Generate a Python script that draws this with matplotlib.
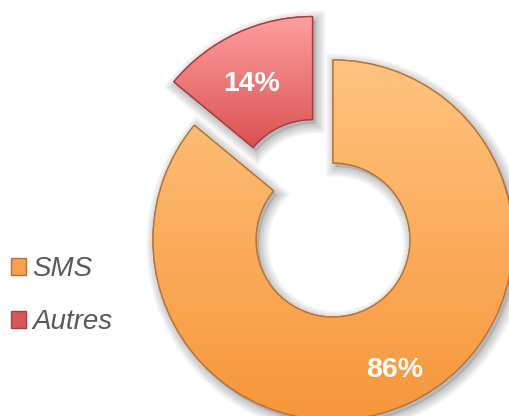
import numpy as np
import matplotlib
matplotlib.use("Agg")
import matplotlib.pyplot as plt
from matplotlib.patches import Patch, Wedge
from matplotlib.colors import LinearSegmentedColormap

labels = ["SMS", "Autres"]
values = [86, 14]
pct_labels = ["86%", "14%"]

top_colors = ["#FFC47F", "#FF9F9F"]
bot_colors = ["#F7963A", "#DB5252"]
edge_colors = ["#B87436", "#A83E3E"]
legend_colors = ["#F5A04A", "#D9565C"]

plt.rcParams["font.family"] = ["Liberation Sans", "DejaVu Sans"]

W, H = 510, 416
fig = plt.figure(figsize=(W / 100, H / 100), dpi=100)
ax = fig.add_axes([0, 0, 1, 1])

R = 180
cx, cy = 333, H - 240
explode = [0, 48]

wedges, texts = ax.pie(values, startangle=90, counterclock=False, radius=R,
                       center=(cx, cy), explode=explode, labels=labels,
                       labeldistance=None,
                       wedgeprops=dict(width=103, linewidth=1.0))

# soft shadow
for w in wedges:
    for k in range(7):
        sh = Wedge((w.center[0] + 3, w.center[1] - 4), w.r, w.theta1, w.theta2,
                   width=w.width, facecolor="none", edgecolor="#000000",
                   linewidth=1 + 2.2 * k, alpha=0.035, zorder=0.5)
        ax.add_patch(sh)
    ax.add_patch(Wedge((w.center[0] + 3, w.center[1] - 4), w.r, w.theta1, w.theta2,
                       width=w.width, facecolor="#000000", alpha=0.12,
                       edgecolor="none", zorder=0.6))

# gradient fills
for i, w in enumerate(wedges):
    w.set_facecolor(bot_colors[i])
    w.set_edgecolor(edge_colors[i])
    w.set_zorder(1)
    ext = w.get_path().get_extents(w.get_patch_transform())
    cmap = LinearSegmentedColormap.from_list("g", [bot_colors[i], top_colors[i]])
    grad = np.linspace(0, 1, 256).reshape(-1, 1)
    im = ax.imshow(grad, cmap=cmap, origin="lower", aspect="auto",
                   extent=(ext.x0, ext.x1, ext.y0, ext.y1), zorder=1.5,
                   interpolation="bilinear")
    im.set_clip_path(w)
    edge = Wedge(w.center, w.r, w.theta1, w.theta2, width=w.width,
                 facecolor="none", edgecolor=edge_colors[i], linewidth=1.0,
                 zorder=2)
    ax.add_patch(edge)

# percentage labels
dists = [0.80, 0.71]
dangle = [0.0, 3.5]
for i, w in enumerate(wedges):
    thm = np.deg2rad((w.theta1 + w.theta2) / 2 + dangle[i])
    x = w.center[0] + dists[i] * R * np.cos(thm)
    y = w.center[1] + dists[i] * R * np.sin(thm)
    ax.text(x, y, pct_labels[i], ha="center", va="center", color="white",
            fontsize=20.5, fontweight="bold", zorder=3)

ax.set_xlim(0, W)
ax.set_ylim(0, H)
ax.set_aspect("auto")
ax.axis("off")

handles = [Patch(facecolor=legend_colors[i], edgecolor=edge_colors[i], label=labels[i])
           for i in range(len(labels))]
leg = ax.legend(handles=handles, loc="center left", bbox_to_anchor=(-0.001, 0.289),
                frameon=False, fontsize=20, handlelength=0.55, handleheight=0.55,
                handletextpad=0.22, labelspacing=0.96, borderaxespad=0)
for t in leg.get_texts():
    t.set_fontstyle("italic")
    t.set_color("#595959")

fig.savefig("out.png", dpi=100)
